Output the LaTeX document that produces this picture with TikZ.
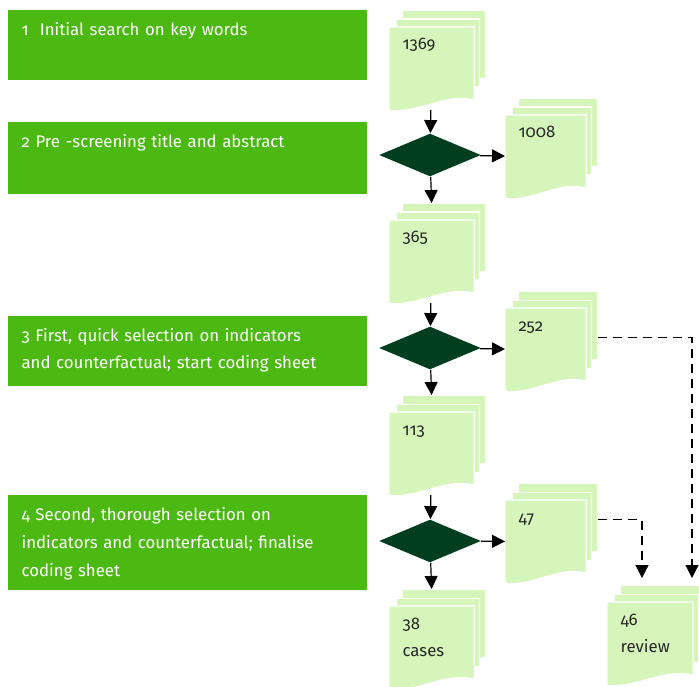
\documentclass[tikz,border=0pt]{standalone}
\usepackage{fontspec}
\setmainfont{Fira Sans}[Numbers=OldStyle]
\usetikzlibrary{arrows.meta,shapes.geometric}
\definecolor{step_green}{RGB}{76,185,18}
\definecolor{page_green}{RGB}{214,245,187}
\definecolor{gate_green}{RGB}{0,62,32}
\definecolor{text_gray}{RGB}{40,40,40}
\newcommand\stackdoc[5]{% name, x, y of front page top left, width, text
  \node[backpage,minimum width=#4pt-1pt] (#1-b) at (#2+13,#3-17) {};
  \node[backpage,minimum width=#4pt-1pt] (#1-m) at (#2+6.5,#3-8.5) {};
  \node[frontpage,minimum width=#4pt] (#1) at (#2,#3) {};
  \filldraw[pageface] (#1.north west) -- (#1.north east) -- ([yshift=10pt]#1.south east)
    .. controls ([xshift=-28pt,yshift=18pt]#1.south east) and ([xshift=28pt,yshift=-4pt]#1.south west) .. (#1.south west) -- cycle;
  \node[pagetext] (#1-t) at ([xshift=13pt,yshift=-23pt]#1.north west) {#5};
  \coordinate (#1-in) at (#1.north |- #1-b.north);
}

\begin{document}
\begin{tikzpicture}[x=1pt,y=-1pt,line width=1.2pt,>={Triangle[width=13pt,length=13pt]}]
    \tikzstyle{stepbox}=[fill=step_green, anchor=north west, inner sep=0pt, minimum width=359pt]
    \tikzstyle{steptext}=[text=white, anchor=base west, align=left, text width=340pt, inner sep=0pt, font=\fontsize{16.8}{28}\selectfont]
    \tikzstyle{backpage}=[fill=page_green, draw=white, anchor=north west, inner sep=0pt, minimum height=68pt]
    \tikzstyle{frontpage}=[draw=none, anchor=north west, inner sep=0pt, minimum height=82pt]
    \tikzstyle{pageface}=[fill=page_green, draw=white]
    \tikzstyle{pagetext}=[text=text_gray, anchor=base west, align=left, text width=64pt, inner sep=0pt, font=\fontsize{16.8}{27}\selectfont]
    \tikzstyle{gate}=[diamond, fill=gate_green, inner sep=0pt, minimum width=102pt, minimum height=43pt]
    \tikzstyle{skip}=[dashed, dash pattern=on 9pt off 6pt, ->]
    \useasboundingbox (0,0) rectangle (699,687);

    \node[stepbox,minimum height=70pt] (s1) at (7,9)   {};
    \node[stepbox,minimum height=72pt] (s2) at (7,121) {};
    \node[stepbox,minimum height=70pt] (s3) at (7,315) {};
    \node[stepbox,minimum height=95pt] (s4) at (7,494) {};
    \node[steptext] (t1) at ([xshift=14pt,yshift=-27pt]s1.north west) {1\ \ Initial search on key words};
    \node[steptext] (t2) at ([xshift=14pt,yshift=-27pt]s2.north west) {2 Pre -screening title and abstract};
    \node[steptext] (t3) at ([xshift=14pt,yshift=-26pt]s3.north west) {3 First, quick selection on indicators\\and counterfactual; start coding sheet};
    \node[steptext] (t4) at ([xshift=14pt,yshift=-26pt]s4.north west) {4 Second, thorough selection on\\indicators and counterfactual; finalise\\coding sheet};

    \stackdoc{p1369}{389}{27}{84}{1369}
    \stackdoc{p1008}{505}{115}{80}{1008}
    \stackdoc{p365}{389}{220}{84}{365}
    \stackdoc{p252}{505}{308}{80}{252}
    \stackdoc{p113}{389}{412}{84}{113}
    \stackdoc{p47}{505}{500}{80}{47}
    \stackdoc{p38}{389}{606}{84}{38\\cases}
    \stackdoc{p46}{607}{602}{85}{46\\review}

    \node[gate] (g1) at (430,155) {};
    \node[gate] (g2) at (430,348) {};
    \node[gate] (g3) at (430,541) {};

    \coordinate (r252) at (692,578);
    \coordinate (r47)  at (642,578);

    \path[->]
     (p1369) edge (g1)
     (g1) edge (p1008)
     (g1) edge (p365-in)
     (p365) edge (g2)
     (g2) edge (p252)
     (g2) edge (p113-in)
     (p113) edge (g3)
     (g3) edge (p47)
     (g3) edge (p38-in)
     ;
    \draw[skip] ([yshift=-12pt]p252-b.east) -| (r252);
    \draw[skip] ([yshift=-2pt]p47-b.east) -| (r47);
\end{tikzpicture}
\end{document}
